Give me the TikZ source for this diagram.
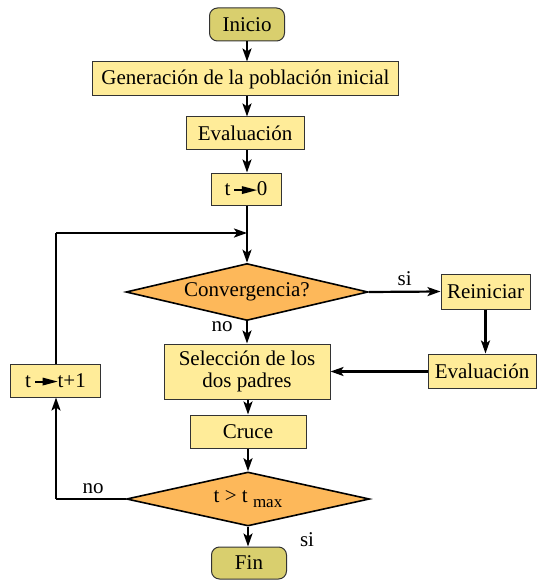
\documentclass[tikz,border=0pt]{standalone}
\usepackage{fontspec}
\setmainfont{Liberation Serif}
\usetikzlibrary{arrows.meta,shapes.geometric}
\definecolor{boxfill}{RGB}{255,236,153}
\definecolor{termfill}{RGB}{217,207,110}
\definecolor{decfill}{RGB}{253,184,90}
\newcommand{\thickarr}{\tikz[baseline=-0.6ex]{\fill[black] (0,-1bp) rectangle (11bp,1bp); \fill[black] (8bp,-4bp) -- (23bp,0) -- (8bp,4bp) -- cycle;}}
\tikzset{
  base/.style={font=\rmfamily\fontsize{21bp}{23bp}\selectfont, inner sep=0pt, align=center},
  procbox/.style={base, draw=black!80, line width=1bp, fill=boxfill},
  termbox/.style={base, draw=black!80, line width=1bp, fill=termfill, rounded corners=8bp},
  decbox/.style={base, draw=black, line width=1.6bp, fill=decfill, diamond, aspect=4.3},
  lbl/.style={base},
  conn/.style={line width=2.2bp, -{Stealth[length=13bp,width=9bp,inset=3bp]}},
  line/.style={line width=2.2bp}
}
\begin{document}
\begin{tikzpicture}[x=1bp,y=-1bp]
\useasboundingbox (0,0) rectangle (541,582);
\node[termbox, minimum width=75bp, minimum height=33bp] (inicio) at (247,24.5) {Inicio};
\node[procbox, minimum width=305bp, minimum height=34bp] (gen) at (245.5,79) {Generación de la población inicial};
\node[procbox, minimum width=118bp, minimum height=33bp] (eval1) at (245,133.5) {Evaluación};
\node[procbox, minimum width=70bp, minimum height=32bp] (t0) at (246,189) {t\,\thickarr0};
\coordinate (join) at (247,233);
\node[decbox, minimum width=242bp, minimum height=57bp] (conv) at (247,292) {Convergencia?};
\node[procbox, minimum width=89bp, minimum height=35bp] (rein) at (485.5,291.5) {Reiniciar};
\node[procbox, minimum width=108bp, minimum height=34bp] (eval2) at (482,371) {Evaluación};
\node[procbox, minimum width=166bp, minimum height=55bp] (sel) at (247,371.5) {Selección de los\\[-1bp]dos padres};
\node[procbox, minimum width=89bp, minimum height=33bp] (tinc) at (55.5,380.5) {t\,\thickarr t+1};
\node[procbox, minimum width=116bp, minimum height=33bp] (cruce) at (248,431.5) {Cruce};
\node[decbox, minimum width=243bp, minimum height=54bp] (tmax) at (248,499) {t {\textgreater} t \raisebox{-0.55ex}{\fontsize{17bp}{19bp}\selectfont max}};
\node[termbox, minimum width=75bp, minimum height=32bp] (fin) at (249,563) {Fin};
\coordinate (lo) at (56,499);
\coordinate (lu) at (56,233);
\draw[conn] (inicio.south) -- (inicio.south |- gen.north);
\draw[conn] (gen.south -| inicio.south) -- (inicio.south |- eval1.north);
\draw[conn] (eval1.south -| join) -- (join |- t0.north);
\draw[line] (t0.south -| join) -- (join);
\draw[conn] (join) -- (conv.north);
\draw[conn] (conv.east) -- node[lbl, above=5bp] {si} (rein.west);
\draw[conn] (rein.south) -- (rein.south |- eval2.north);
\draw[conn] (eval2.west |- sel.east) -- (sel.east);
\draw[conn] (conv.south) -- (sel.north);
\node[lbl] (no1) at (222,327) {no};
\draw[conn] (sel.south -| cruce.north) -- (cruce.north);
\draw[conn] (cruce.south) -- (tmax.north);
\draw[conn] (tmax.south) -- (tmax.south |- fin.north);
\node[lbl] (si2) at (307,540) {si};
\draw[line] (tmax.west) -- (lo);
\draw[conn] (lo) -- (lo |- tinc.south);
\node[lbl] (no2) at (93,489) {no};
\draw[line] (lo |- tinc.north) -- (lu);
\draw[conn] (lu) -- (join);
\end{tikzpicture}
\end{document}
